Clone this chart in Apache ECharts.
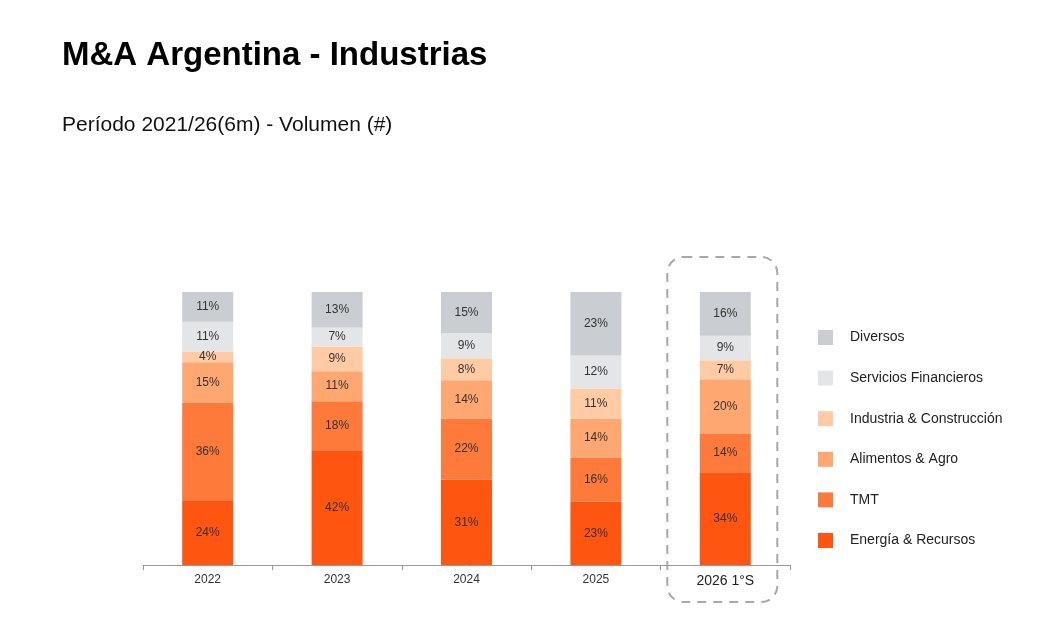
<!DOCTYPE html>
<html>
<head>
<meta charset="utf-8">
<script src="https://cdn.jsdelivr.net/npm/echarts@6/dist/echarts.min.js"></script>
<style>
  html, body { margin: 0; padding: 0; background: #fff; }
  #chart { width: 1058px; height: 625px; }
</style>
</head>
<body>
<div id="chart"></div>
<script>
// M&A Argentina - participación por industria (volumen)

const years = ['2022', '2023', '2024', '2025', '2026 1°S'];

// de abajo hacia arriba en cada barra
const energia = [24, 42, 31, 23, 34];
const tmt = [36, 18, 22, 16, 14];
const alimentos = [15, 11, 14, 14, 20];
const industria = [4, 9, 8, 11, 7];
const servicios = [11, 7, 9, 12, 9];
const diversos = [11, 13, 15, 23, 16];

const seriesNames = ['Energía & Recursos', 'TMT', 'Alimentos & Agro', 'Industria & Construcción', 'Servicios Financieros', 'Diversos'];
const seriesValues = [energia, tmt, alimentos, industria, servicios, diversos];
const colors = ['#fe5510', '#fe7a3b', '#fea771', '#fecba5', '#e3e5e7', '#caced2'];

// cada barra llega al 100% aunque los redondeos sumen 99 o 101
const totals = years.map((_, i) => seriesValues.reduce((s, arr) => s + arr[i], 0));

const dom = document.getElementById('chart');
const myChart = echarts.init(dom);

const series = seriesNames.map((name, k) => ({
    name: name,
    type: 'bar',
    stack: 'total',
    barWidth: 51,
    itemStyle: { color: colors[k] },
    label: {
        show: true,
        position: 'inside',
        fontFamily: 'Liberation Sans',
        fontSize: 12,
        color: '#333',
        formatter: p => seriesValues[k][p.dataIndex] + '%'
    },
    emphasis: { disabled: true },
    data: seriesValues[k].map((v, i) => v / totals[i] * 100)
}));

const option = {
    animation: false,
    textStyle: { fontFamily: 'Liberation Sans' },
    title: [
        {
            text: 'M&A Argentina - Industrias',
            left: 57,
            top: 34,
            textStyle: { fontSize: 33, fontWeight: 'bold', color: '#000', fontFamily: 'Liberation Sans' }
        },
        {
            text: 'Período 2021/26(6m) - Volumen (#)',
            left: 57,
            top: 110,
            textStyle: { fontSize: 21, fontWeight: 'normal', color: '#111', fontFamily: 'Liberation Sans' }
        }
    ],
    legend: {
        orient: 'vertical',
        left: 813,
        top: 325,
        itemWidth: 15,
        itemHeight: 15,
        itemGap: 25.6,
        icon: 'rect',
        data: seriesNames.slice().reverse(),
        textStyle: { fontSize: 14, color: '#222', padding: [0, 0, 0, 12] }
    },
    grid: { left: 143, right: 268, top: 292, bottom: 60 },
    xAxis: {
        type: 'category',
        data: years,
        axisLine: { lineStyle: { color: '#999' } },
        axisTick: { show: true, length: 5, lineStyle: { color: '#999' } },
        axisLabel: {
            margin: 9,
            fontSize: 12,
            color: '#333',
            formatter: (v, i) => i === years.length - 1 ? '{big|' + v + '}' : v,
            rich: { big: { fontSize: 14, color: '#222' } }
        }
    },
    yAxis: {
        type: 'value',
        min: 0,
        max: 100,
        show: false,
        splitLine: { show: false }
    },
    series: series
};

myChart.setOption(option);

// recuadro punteado alrededor del último período
const last = years.length - 1;
const cx = myChart.convertToPixel({ xAxisIndex: 0 }, years[last]);
const yTop = myChart.convertToPixel({ yAxisIndex: 0 }, 100);
const yBase = myChart.convertToPixel({ yAxisIndex: 0 }, 0);
myChart.setOption({
    graphic: [{
        type: 'rect',
        shape: { x: cx - 58, y: yTop - 35, width: 110, height: yBase - yTop + 72, r: 16 },
        style: { fill: 'none', stroke: '#a9a9a9', lineWidth: 2, lineDash: [9, 7] },
        silent: true
    }]
});
</script>
</body>
</html>
